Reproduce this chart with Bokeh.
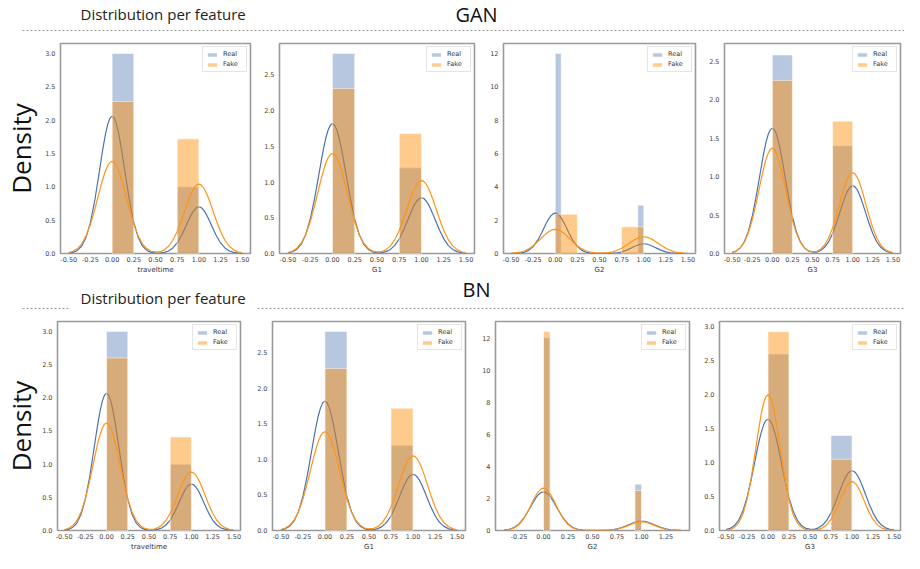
from bokeh.plotting import figure
from bokeh.layouts import column, row
from bokeh.models import Range1d, FixedTicker, PrintfTickFormatter
from bokeh.core.properties import value
from bokeh.embed import file_html
from bokeh.resources import INLINE

# ------------------------------------------------------------------ data
HEADER = "Distribution per feature"
Y_TITLE = "Density"
MODELS = ["GAN", "BN"]
FEATURES = ["traveltime", "G1", "G2", "G3"]

X_TICKS = [-0.5, -0.25, 0.0, 0.25, 0.5, 0.75, 1.0, 1.25, 1.5]
X_TICKS_NARROW = [-0.25, 0.0, 0.25, 0.5, 0.75, 1.0, 1.25]
Y_TICKS_3 = [0.0, 0.5, 1.0, 1.5, 2.0, 2.5, 3.0]
Y_TICKS_25 = [0.0, 0.5, 1.0, 1.5, 2.0, 2.5]
Y_TICKS_12 = [0, 2, 4, 6, 8, 10, 12]

# histogram bin edges (left / right)
WIDE_LEFT = [0.0, 0.75]
WIDE_RIGHT = [0.25, 1.0]
NARROW_LEFT = [0.0, 0.933]
NARROW_RIGHT = [0.067, 1.0]

# KDE sample positions
KDE_X = [-0.50, -0.45, -0.40, -0.35, -0.30, -0.25, -0.20, -0.15, -0.125, -0.10, -0.075, -0.05, -0.025,
         0.00, 0.025, 0.05, 0.075, 0.10, 0.125, 0.15, 0.20, 0.25, 0.30, 0.35, 0.40, 0.45,
         0.50,
         0.55, 0.60, 0.65, 0.70, 0.75, 0.80, 0.85, 0.875, 0.90, 0.925, 0.95, 0.975,
         1.00, 1.025, 1.05, 1.075, 1.10, 1.125, 1.15, 1.20, 1.25, 1.30, 1.35, 1.40, 1.45, 1.50]
KDE_X_NARROW = [-0.40, -0.35, -0.30, -0.25, -0.20, -0.15, -0.125, -0.10, -0.075, -0.05, -0.025,
                0.00, 0.025, 0.05, 0.075, 0.10, 0.125, 0.15, 0.20, 0.25, 0.30, 0.35, 0.40, 0.45,
                0.50,
                0.55, 0.60, 0.65, 0.70, 0.75, 0.80, 0.85, 0.875, 0.90, 0.925, 0.95, 0.975,
                1.00, 1.025, 1.05, 1.075, 1.10, 1.125, 1.15, 1.20, 1.25, 1.30, 1.35, 1.40]

# ---- GAN
gan_travel_real_hist = [3.0, 1.0]
gan_travel_fake_hist = [2.28, 1.72]
gan_travel_real_kde = [0.005, 0.017, 0.046, 0.112, 0.243, 0.466, 0.795, 1.207, 1.421, 1.623, 1.803, 1.941, 2.029,
                       2.06, 2.029, 1.941, 1.803, 1.623, 1.421, 1.207, 0.795, 0.466, 0.243, 0.112, 0.046, 0.017,
                       0.007,
                       0.006, 0.016, 0.038, 0.083, 0.158, 0.270, 0.410, 0.483, 0.552, 0.613, 0.659, 0.690,
                       0.70, 0.690, 0.659, 0.613, 0.552, 0.483, 0.410, 0.270, 0.158, 0.083, 0.038, 0.016, 0.006, 0.002]
gan_travel_fake_kde = [0.014, 0.034, 0.073, 0.145, 0.264, 0.437, 0.662, 0.914, 1.036, 1.148, 1.245, 1.318, 1.365,
                       1.38, 1.365, 1.318, 1.245, 1.148, 1.036, 0.914, 0.662, 0.437, 0.264, 0.145, 0.073, 0.034,
                       0.025,
                       0.025, 0.055, 0.109, 0.199, 0.330, 0.499, 0.688, 0.781, 0.865, 0.938, 0.993, 1.029,
                       1.04, 1.029, 0.993, 0.938, 0.865, 0.781, 0.688, 0.499, 0.330, 0.199, 0.109, 0.055, 0.025, 0.011]

gan_g1_real_hist = [2.8, 1.2]
gan_g1_fake_hist = [2.31, 1.68]
gan_g1_real_kde = [0.009, 0.024, 0.060, 0.133, 0.266, 0.479, 0.775, 1.125, 1.303, 1.471, 1.614, 1.725, 1.796,
                   1.82, 1.796, 1.725, 1.614, 1.471, 1.303, 1.125, 0.775, 0.479, 0.266, 0.133, 0.060, 0.024,
                   0.013,
                   0.010, 0.026, 0.057, 0.114, 0.205, 0.332, 0.482, 0.558, 0.630, 0.692, 0.739, 0.770,
                   0.78, 0.770, 0.739, 0.692, 0.630, 0.558, 0.482, 0.332, 0.205, 0.114, 0.057, 0.026, 0.010, 0.004]
gan_g1_fake_kde = [0.014, 0.034, 0.074, 0.147, 0.267, 0.444, 0.672, 0.927, 1.051, 1.165, 1.263, 1.337, 1.385,
                   1.40, 1.385, 1.337, 1.263, 1.165, 1.051, 0.927, 0.672, 0.444, 0.267, 0.147, 0.074, 0.034,
                   0.024,
                   0.025, 0.054, 0.107, 0.195, 0.323, 0.490, 0.675, 0.766, 0.849, 0.920, 0.974, 1.009,
                   1.02, 1.009, 0.974, 0.920, 0.849, 0.766, 0.675, 0.490, 0.323, 0.195, 0.107, 0.054, 0.025, 0.010]

gan_g2_real_hist = [12.0, 2.9]
gan_g2_fake_hist = [2.36, 1.6]
gan_g2_real_kde = [0.002, 0.008, 0.026, 0.076, 0.190, 0.414, 0.782, 1.280, 1.556, 1.825, 2.064, 2.255, 2.376,
                   2.42, 2.376, 2.255, 2.064, 1.825, 1.556, 1.280, 0.782, 0.414, 0.190, 0.076, 0.026, 0.008,
                   0.003,
                   0.002, 0.006, 0.018, 0.046, 0.099, 0.187, 0.307, 0.373, 0.437, 0.495, 0.541, 0.570,
                   0.58, 0.570, 0.541, 0.495, 0.437, 0.373, 0.307, 0.187, 0.099, 0.046, 0.018, 0.006, 0.002, 0.000]
gan_g2_fake_kde = [0.015, 0.035, 0.077, 0.152, 0.277, 0.460, 0.696, 0.960, 1.089, 1.206, 1.308, 1.385, 1.434,
                   1.45, 1.434, 1.385, 1.308, 1.206, 1.089, 0.960, 0.696, 0.460, 0.277, 0.152, 0.077, 0.035,
                   0.025,
                   0.024, 0.053, 0.105, 0.191, 0.317, 0.480, 0.662, 0.751, 0.832, 0.902, 0.955, 0.989,
                   1.0, 0.989, 0.955, 0.902, 0.832, 0.751, 0.662, 0.480, 0.317, 0.191, 0.105, 0.053, 0.024, 0.010]

gan_g3_real_hist = [2.58, 1.4]
gan_g3_fake_hist = [2.25, 1.72]
gan_g3_real_kde = [0.012, 0.031, 0.072, 0.149, 0.280, 0.481, 0.747, 1.050, 1.201, 1.341, 1.460, 1.552, 1.610,
                   1.63, 1.610, 1.552, 1.460, 1.341, 1.201, 1.050, 0.747, 0.481, 0.280, 0.149, 0.072, 0.031,
                   0.019,
                   0.017, 0.039, 0.080, 0.151, 0.260, 0.403, 0.567, 0.649, 0.724, 0.788, 0.838, 0.869,
                   0.88, 0.869, 0.838, 0.788, 0.724, 0.649, 0.567, 0.403, 0.260, 0.151, 0.080, 0.039, 0.017, 0.007]
gan_g3_fake_kde = [0.014, 0.033, 0.073, 0.144, 0.262, 0.434, 0.658, 0.907, 1.029, 1.140, 1.236, 1.308, 1.355,
                   1.37, 1.355, 1.308, 1.236, 1.140, 1.029, 0.907, 0.658, 0.434, 0.262, 0.144, 0.073, 0.033,
                   0.025,
                   0.026, 0.056, 0.110, 0.201, 0.333, 0.504, 0.695, 0.789, 0.874, 0.947, 1.003, 1.038,
                   1.05, 1.038, 1.003, 0.947, 0.874, 0.789, 0.695, 0.504, 0.333, 0.201, 0.110, 0.056, 0.026, 0.011]

# ---- BN
bn_travel_real_hist = [3.0, 1.0]
bn_travel_fake_hist = [2.6, 1.41]
bn_travel_real_kde = [0.005, 0.017, 0.046, 0.112, 0.244, 0.468, 0.799, 1.213, 1.428, 1.631, 1.811, 1.950, 2.039,
                      2.07, 2.039, 1.950, 1.811, 1.631, 1.428, 1.213, 0.799, 0.468, 0.244, 0.112, 0.046, 0.017,
                      0.007,
                      0.006, 0.016, 0.038, 0.083, 0.158, 0.270, 0.410, 0.483, 0.552, 0.613, 0.659, 0.690,
                      0.70, 0.690, 0.659, 0.613, 0.552, 0.483, 0.410, 0.270, 0.158, 0.083, 0.038, 0.016, 0.006, 0.002]
bn_travel_fake_kde = [0.012, 0.031, 0.071, 0.148, 0.279, 0.478, 0.742, 1.043, 1.194, 1.333, 1.452, 1.542, 1.601,
                      1.62, 1.601, 1.542, 1.452, 1.333, 1.194, 1.043, 0.742, 0.478, 0.279, 0.148, 0.071, 0.031,
                      0.019,
                      0.017, 0.039, 0.080, 0.151, 0.260, 0.403, 0.567, 0.649, 0.724, 0.788, 0.838, 0.869,
                      0.88, 0.869, 0.838, 0.788, 0.724, 0.649, 0.567, 0.403, 0.260, 0.151, 0.080, 0.039, 0.017, 0.007]

bn_g1_real_hist = [2.8, 1.2]
bn_g1_fake_hist = [2.28, 1.72]
bn_g1_real_kde = [0.009, 0.024, 0.060, 0.133, 0.266, 0.479, 0.775, 1.125, 1.303, 1.471, 1.614, 1.725, 1.796,
                  1.82, 1.796, 1.725, 1.614, 1.471, 1.303, 1.125, 0.775, 0.479, 0.266, 0.133, 0.060, 0.024,
                  0.013,
                  0.010, 0.026, 0.058, 0.115, 0.208, 0.337, 0.489, 0.566, 0.639, 0.701, 0.749, 0.780,
                  0.79, 0.780, 0.749, 0.701, 0.639, 0.566, 0.489, 0.337, 0.208, 0.115, 0.058, 0.026, 0.010, 0.004]
bn_g1_fake_kde = [0.014, 0.034, 0.074, 0.146, 0.265, 0.441, 0.667, 0.920, 1.044, 1.156, 1.254, 1.327, 1.375,
                  1.39, 1.375, 1.327, 1.254, 1.156, 1.044, 0.920, 0.667, 0.441, 0.265, 0.146, 0.074, 0.034,
                  0.025,
                  0.026, 0.056, 0.110, 0.201, 0.333, 0.504, 0.695, 0.789, 0.874, 0.947, 1.003, 1.038,
                  1.05, 1.038, 1.003, 0.947, 0.874, 0.789, 0.695, 0.504, 0.333, 0.201, 0.110, 0.056, 0.026, 0.011]

bn_g2_real_hist = [12.05, 2.9]
bn_g2_fake_hist = [12.45, 2.5]
bn_g2_real_kde = [0.026, 0.076, 0.190, 0.414, 0.782, 1.280, 1.556, 1.825, 2.064, 2.255, 2.376,
                  2.42, 2.376, 2.255, 2.064, 1.825, 1.556, 1.280, 0.782, 0.414, 0.190, 0.076, 0.026, 0.008,
                  0.003,
                  0.002, 0.006, 0.018, 0.046, 0.099, 0.187, 0.307, 0.373, 0.437, 0.495, 0.541, 0.570,
                  0.58, 0.570, 0.541, 0.495, 0.437, 0.373, 0.307, 0.187, 0.099, 0.046, 0.018, 0.006]
bn_g2_fake_kde = [0.017, 0.056, 0.156, 0.371, 0.753, 1.304, 1.619, 1.935, 2.221, 2.449, 2.600,
                  2.65, 2.600, 2.449, 2.221, 1.935, 1.619, 1.304, 0.753, 0.371, 0.156, 0.056, 0.017, 0.005,
                  0.001,
                  0.001, 0.004, 0.012, 0.032, 0.077, 0.156, 0.271, 0.336, 0.402, 0.461, 0.508, 0.540,
                  0.55, 0.540, 0.508, 0.461, 0.402, 0.336, 0.271, 0.156, 0.077, 0.032, 0.012, 0.004]

bn_g3_real_hist = [2.6, 1.4]
bn_g3_fake_hist = [2.93, 1.05]
bn_g3_real_kde = [0.012, 0.031, 0.072, 0.150, 0.282, 0.484, 0.751, 1.056, 1.209, 1.350, 1.469, 1.561, 1.620,
                  1.64, 1.620, 1.561, 1.469, 1.350, 1.209, 1.056, 0.751, 0.484, 0.282, 0.150, 0.072, 0.031,
                  0.019,
                  0.017, 0.039, 0.080, 0.151, 0.260, 0.403, 0.567, 0.649, 0.724, 0.788, 0.838, 0.869,
                  0.88, 0.869, 0.838, 0.788, 0.724, 0.649, 0.567, 0.403, 0.260, 0.151, 0.080, 0.039, 0.017, 0.007]
bn_g3_fake_kde = [0.005, 0.016, 0.045, 0.109, 0.236, 0.452, 0.772, 1.172, 1.380, 1.576, 1.750, 1.884, 1.970,
                  2.0, 1.970, 1.884, 1.750, 1.576, 1.380, 1.172, 0.772, 0.452, 0.236, 0.109, 0.045, 0.016,
                  0.007,
                  0.006, 0.016, 0.039, 0.085, 0.163, 0.278, 0.422, 0.497, 0.567, 0.630, 0.678, 0.709,
                  0.72, 0.709, 0.678, 0.630, 0.567, 0.497, 0.422, 0.278, 0.163, 0.085, 0.039, 0.016, 0.006, 0.002]

# ------------------------------------------------------------------ style
REAL_COLOR = "#4c72b0"
FAKE_COLOR = "#ff8c00"
FAKE_LINE = "#ff9418"
FONT = "Open Sans"
TICK_FONT = "DejaVu Sans"


def spec(name, rh, rl, rr, fh, fl, fr, rk, fk, kx, xr, ymax, yticks, xticks, yfmt):
    return dict(name=name, rh=rh, rl=rl, rr=rr, fh=fh, fl=fl, fr=fr, rk=rk, fk=fk,
                kx=kx, xr=xr, ymax=ymax, yticks=yticks, xticks=xticks, yfmt=yfmt)


GAN_SPECS = [
    spec(FEATURES[0], gan_travel_real_hist, WIDE_LEFT, WIDE_RIGHT, gan_travel_fake_hist, WIDE_LEFT, WIDE_RIGHT,
         gan_travel_real_kde, gan_travel_fake_kde, KDE_X, (-0.595, 1.595), 3.15, Y_TICKS_3, X_TICKS, "%.1f"),
    spec(FEATURES[1], gan_g1_real_hist, WIDE_LEFT, WIDE_RIGHT, gan_g1_fake_hist, WIDE_LEFT, WIDE_RIGHT,
         gan_g1_real_kde, gan_g1_fake_kde, KDE_X, (-0.595, 1.595), 2.94, Y_TICKS_25, X_TICKS, "%.1f"),
    spec(FEATURES[2], gan_g2_real_hist, NARROW_LEFT, NARROW_RIGHT, gan_g2_fake_hist, WIDE_LEFT, WIDE_RIGHT,
         gan_g2_real_kde, gan_g2_fake_kde, KDE_X, (-0.585, 1.585), 12.6, Y_TICKS_12, X_TICKS, "%d"),
    spec(FEATURES[3], gan_g3_real_hist, WIDE_LEFT, WIDE_RIGHT, gan_g3_fake_hist, WIDE_LEFT, WIDE_RIGHT,
         gan_g3_real_kde, gan_g3_fake_kde, KDE_X, (-0.595, 1.595), 2.73, Y_TICKS_25, X_TICKS, "%.1f"),
]
BN_SPECS = [
    spec(FEATURES[0], bn_travel_real_hist, WIDE_LEFT, WIDE_RIGHT, bn_travel_fake_hist, WIDE_LEFT, WIDE_RIGHT,
         bn_travel_real_kde, bn_travel_fake_kde, KDE_X, (-0.578, 1.578), 3.15, Y_TICKS_3, X_TICKS, "%.1f"),
    spec(FEATURES[1], bn_g1_real_hist, WIDE_LEFT, WIDE_RIGHT, bn_g1_fake_hist, WIDE_LEFT, WIDE_RIGHT,
         bn_g1_real_kde, bn_g1_fake_kde, KDE_X, (-0.595, 1.595), 2.94, Y_TICKS_25, X_TICKS, "%.1f"),
    spec(FEATURES[2], bn_g2_real_hist, NARROW_LEFT, NARROW_RIGHT, bn_g2_fake_hist, NARROW_LEFT, NARROW_RIGHT,
         bn_g2_real_kde, bn_g2_fake_kde, KDE_X_NARROW, (-0.49, 1.49), 13.07, Y_TICKS_12, X_TICKS_NARROW, "%d"),
    spec(FEATURES[3], bn_g3_real_hist, WIDE_LEFT, WIDE_RIGHT, bn_g3_fake_hist, WIDE_LEFT, WIDE_RIGHT,
         bn_g3_real_kde, bn_g3_fake_kde, KDE_X, (-0.577, 1.577), 3.08, Y_TICKS_3, X_TICKS, "%.1f"),
]


def make_panel(s, w, h, bl, br, bt, bb, ytitle=None, ytitle_standoff=0):
    assert len(s["rk"]) == len(s["kx"]) and len(s["fk"]) == len(s["kx"])
    p = figure(width=w, height=h, title=None, output_backend="svg", toolbar_location=None,
               x_range=Range1d(s["xr"][0], s["xr"][1]), y_range=Range1d(0, s["ymax"]),
               min_border_left=bl, min_border_right=br, min_border_top=bt, min_border_bottom=bb)
    p.quad(left=s["rl"], right=s["rr"], bottom=0, top=s["rh"], fill_color=REAL_COLOR, fill_alpha=0.4,
           line_color="white", line_alpha=0.5, line_width=1, legend_label="Real")
    p.line(s["kx"], s["rk"], line_color=REAL_COLOR, line_width=1.2)
    p.quad(left=s["fl"], right=s["fr"], bottom=0, top=s["fh"], fill_color=FAKE_COLOR, fill_alpha=0.45,
           line_color="white", line_alpha=0.5, line_width=1, legend_label="Fake")
    p.line(s["kx"], s["fk"], line_color=FAKE_LINE, line_width=1.2)

    p.grid.visible = False
    p.background_fill_color = "white"
    p.border_fill_color = "white"
    p.outline_line_color = "#9a9a9a"
    p.outline_line_width = 1.6
    for ax in (p.xaxis[0], p.yaxis[0]):
        ax.axis_line_color = None
        ax.major_tick_line_color = None
        ax.minor_tick_line_color = None
        ax.major_tick_out = 0
        ax.major_tick_in = 0
        ax.minor_tick_out = 0
        ax.major_label_text_font = TICK_FONT
        ax.major_label_text_font_size = "6.5px"
        ax.major_label_text_color = "#444444"
    p.xaxis.ticker = FixedTicker(ticks=s["xticks"])
    p.xaxis.formatter = PrintfTickFormatter(format="%.2f")
    p.xaxis.major_label_standoff = 3
    p.xaxis.axis_label = s["name"]
    p.xaxis.axis_label_text_font = TICK_FONT
    p.xaxis.axis_label_text_font_size = "7px"
    p.xaxis.axis_label_text_font_style = "normal"
    p.xaxis.axis_label_text_color = "#333333"
    p.xaxis.axis_label_standoff = 1
    p.yaxis.ticker = FixedTicker(ticks=s["yticks"])
    p.yaxis.formatter = PrintfTickFormatter(format=s["yfmt"])
    p.yaxis.major_label_standoff = 5
    if ytitle:
        p.yaxis.axis_label = ytitle
        p.yaxis.axis_label_text_font = FONT
        p.yaxis.axis_label_text_font_size = "26px"
        p.yaxis.axis_label_text_font_style = "normal"
        p.yaxis.axis_label_text_color = "#111111"
        p.yaxis.axis_label_standoff = ytitle_standoff

    lg = p.legend[0]
    lg.location = "top_right"
    lg.label_text_font = TICK_FONT
    lg.label_text_font_size = "6.5px"
    lg.label_text_color = "#333333"
    lg.glyph_width = 12
    lg.glyph_height = 5
    lg.label_height = 8
    lg.label_standoff = 5
    lg.spacing = 2
    lg.padding = 3
    lg.margin = 3
    lg.border_line_color = "#cccccc"
    lg.border_line_width = 1
    lg.background_fill_alpha = 0.9
    return p


def blank(w, h):
    p = figure(width=w, height=h, title=None, output_backend="svg", toolbar_location=None,
               x_range=Range1d(0, w), y_range=Range1d(0, h), x_axis_type=None, y_axis_type=None,
               min_border=0)
    p.outline_line_color = None
    p.background_fill_color = "white"
    p.border_fill_color = "white"
    return p


# header 1
h1 = blank(904, 36)
h1.text(x=[80], y=[23], text=[HEADER], text_align="left", text_baseline="middle",
        text_font=value(FONT), text_font_size="15px", text_color="#222222")
h1.text(x=[476], y=[22], text=[MODELS[0]], text_align="center", text_baseline="middle",
        text_font=value(FONT), text_font_size="20px", text_color="#111111")
h1.segment(x0=[22], y0=[6], x1=[904], y1=[6], line_color="#9a9a9a", line_dash="2 2", line_width=1)

# header 2
h2 = blank(904, 36)
h2.text(x=[476], y=[23], text=[MODELS[1]], text_align="center", text_baseline="middle",
        text_font=value(FONT), text_font_size="20px", text_color="#111111")
h2.text(x=[80], y=[15], text=[HEADER], text_align="left", text_baseline="middle",
        text_font=value(FONT), text_font_size="15px", text_color="#222222")
h2.segment(x0=[22, 257], y0=[4, 4], x1=[70, 904], y1=[4, 4], line_color="#9a9a9a",
           line_dash="2 2", line_width=1)

# rows
R1_H, R1_T, R1_B = 240, 7, 22
r1_dims = [(254, 55, 4), (224, 25, 4), (221, 25, 4), (205, 25, 4)]
row1 = []
for i, (s, (w, bl, br)) in enumerate(zip(GAN_SPECS, r1_dims)):
    row1.append(make_panel(s, w, R1_H, bl, br, R1_T, R1_B,
                           ytitle=Y_TITLE if i == 0 else None, ytitle_standoff=3))

R2_H, R2_T, R2_B = 241, 9, 22
r2_dims = [(247, 48, 7), (223, 25, 5), (224, 25, 5), (210, 25, 4)]
row2 = []
for i, (s, (w, bl, br)) in enumerate(zip(BN_SPECS, r2_dims)):
    row2.append(make_panel(s, w, R2_H, bl, br, R2_T, R2_B,
                           ytitle=Y_TITLE if i == 0 else None, ytitle_standoff=0))

layout = column(h1, row(*row1), h2, row(*row2))

open("out.html", "w").write(file_html(layout, INLINE, title="Distribution per feature"))
